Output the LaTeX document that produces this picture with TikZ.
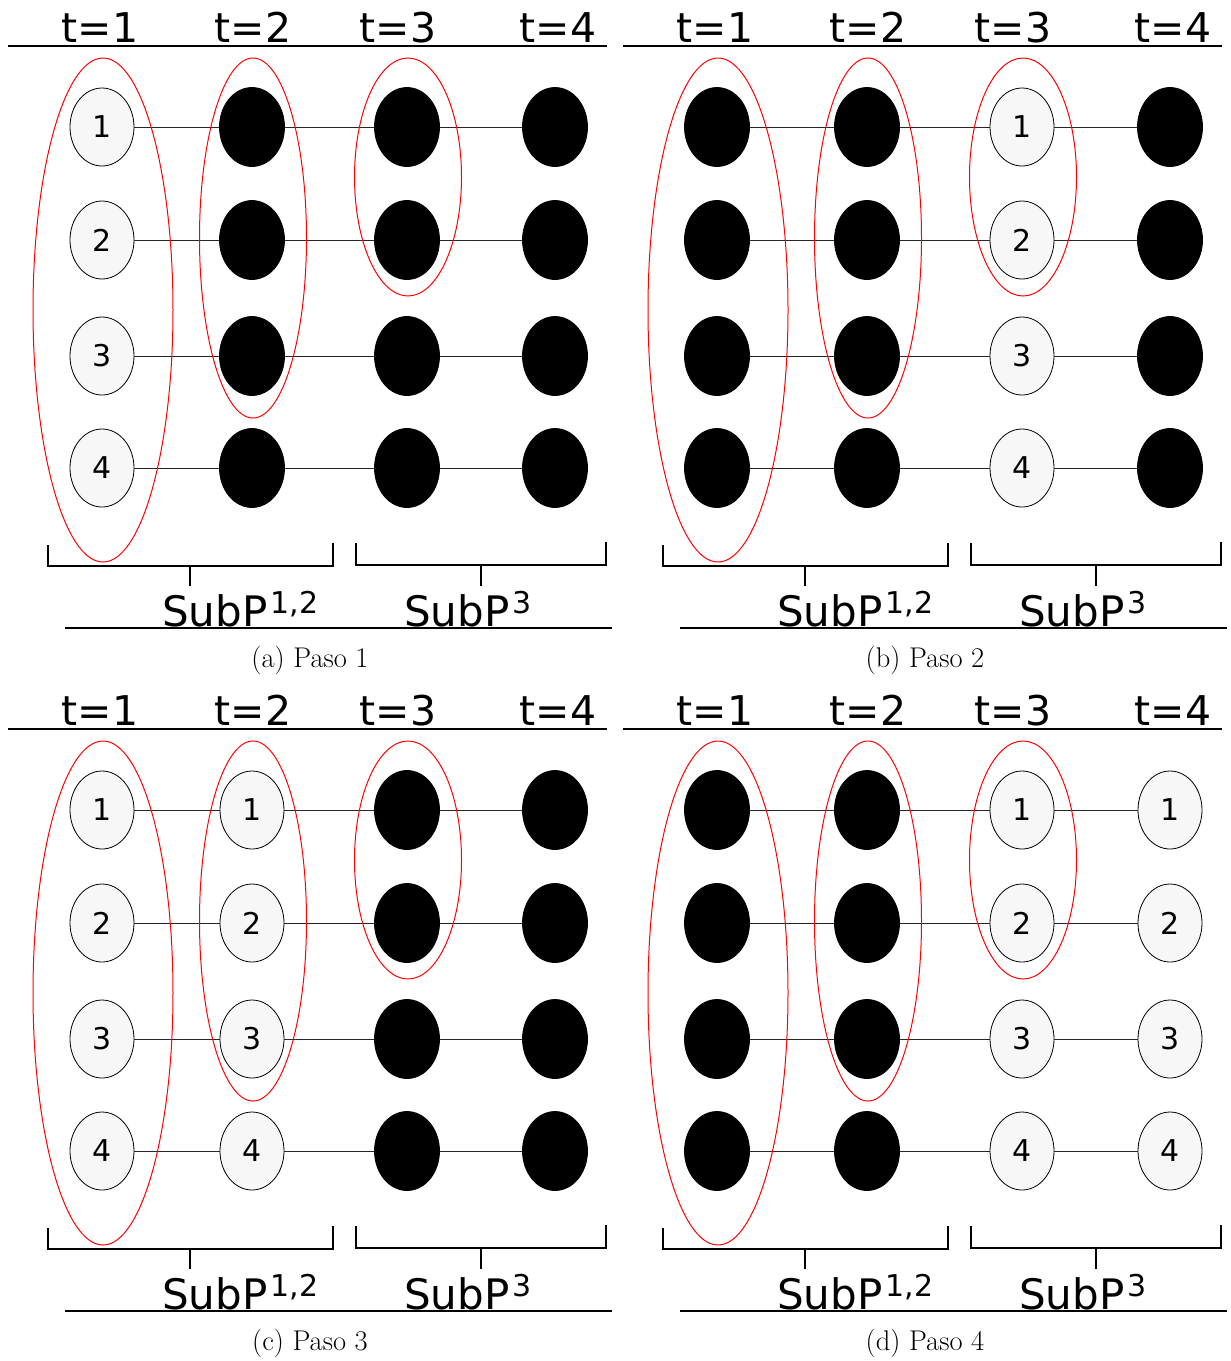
\documentclass[tikz,border=0pt]{standalone}
\usepackage{fontspec}
\newfontfamily\lab{DejaVu Sans}
\usetikzlibrary{shapes.geometric}
\tikzset{
 wnode/.style={ellipse, draw=black, line width=0.8pt, fill=black!3, minimum width=64pt, minimum height=78pt, inner sep=0pt, font=\lab\fontsize{30}{30}\selectfont},
 bnode/.style={ellipse, fill=black, draw=black, line width=0.8pt, minimum width=65pt, minimum height=79pt, inner sep=0pt},
 conn/.style={line width=0.9pt, black!85},
 grp/.style={red, line width=1pt},
 rulel/.style={line width=2pt, black},
 tlab/.style={font=\lab\fontsize{41}{41}\selectfont, anchor=base, inner sep=0pt},
 slab/.style={font=\lab\fontsize{42}{42}\selectfont, anchor=base west, inner sep=0pt},
 caplab/.style={font=\fontsize{28.5}{32}\selectfont, anchor=base, inner sep=0pt},
}
\newcommand\supx[1]{\kern3pt\raisebox{13pt}{\fontsize{30}{30}\selectfont #1}}
\newcommand\wcol[3]{\foreach \r/\yy in {1/127,2/240,3/356,4/468} \node[wnode] (#1#2\r) at (#3,\yy) {\r};}
\newcommand\bcol[3]{\foreach \r/\yy in {1/127,2/240,3/356,4/468} \node[bnode] (#1#2\r) at (#3,\yy) {};}
\newcommand\panel[8]{%
\begin{scope}[shift={(#2,#3)}]
 \draw[rulel] (8,46) -- (607,46);
 \node[tlab] (#1t1) at (100,42) {t=1};
 \node[tlab] (#1t2) at (253,42) {t=2};
 \node[tlab] (#1t3) at (398,42) {t=3};
 \node[tlab] (#1t4) at (558,42) {t=4};
 #4{#1}{1}{102}
 #5{#1}{2}{252}
 #6{#1}{3}{407}
 #7{#1}{4}{555}
 \foreach \r in {1,...,4} {
   \draw[conn] (#11\r) -- (#12\r);
   \draw[conn] (#12\r) -- (#13\r);
   \draw[conn] (#13\r) -- (#14\r);
 }
 \draw[grp] (103,310) ellipse [x radius=70, y radius=252];
 \draw[grp] (253,238) ellipse [x radius=53.5, y radius=180];
 \draw[grp] (408,177) ellipse [x radius=53.5, y radius=119];
 \draw[rulel] (48,545) -- (48,566) -- (333,566) -- (333,543);
 \draw[rulel] (190,566) -- (190,586);
 \draw[rulel] (356,543) -- (356,565) -- (606,565) -- (606,542);
 \draw[rulel] (481,565) -- (481,586);
 \node[slab] (#1s12) at (162,626) {SubP\supx{1,2}};
 \node[slab] (#1s3) at (404,626) {SubP\supx{3}};
 \draw[rulel] (65,628) -- (612,628);
 \node[caplab] (#1cap) at (310,667) {#8};
\end{scope}}
\begin{document}
\begin{tikzpicture}[x=1pt, y=-1pt]
\useasboundingbox (0,0) rectangle (1231,1361);
\panel{a}{0}{0}{\wcol}{\bcol}{\bcol}{\bcol}{(a)\ Paso 1}
\panel{b}{615}{0}{\bcol}{\bcol}{\wcol}{\bcol}{(b)\ Paso 2}
\panel{c}{0}{683}{\wcol}{\wcol}{\bcol}{\bcol}{(c)\ Paso 3}
\panel{d}{615}{683}{\bcol}{\bcol}{\wcol}{\wcol}{(d)\ Paso 4}
\end{tikzpicture}
\end{document}
